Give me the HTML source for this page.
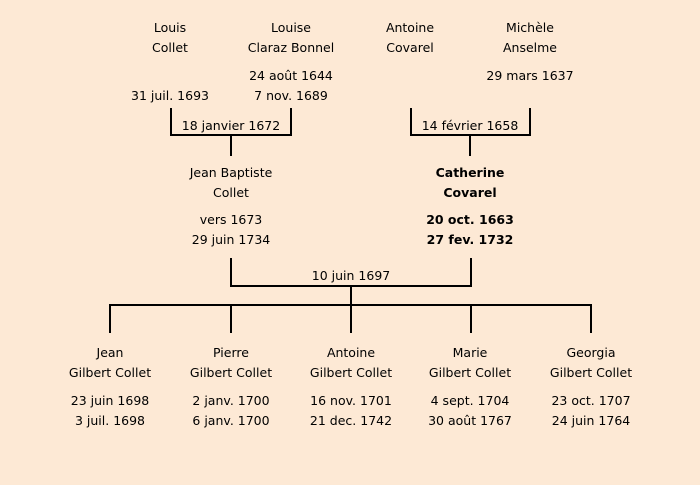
<!DOCTYPE html>
<html><head><meta charset="utf-8"><style>
html,body{margin:0;padding:0;background:#fde9d5;}
svg{display:block}
text{font-family:"DejaVu Sans","Liberation Sans",sans-serif;font-size:12.5px;fill:#000;text-anchor:middle}
.b{font-weight:bold}
</style></head><body>
<svg width="700" height="485" viewBox="0 0 700 485">
<rect width="700" height="485" fill="#fde9d5"/>
<g stroke="#000" stroke-width="2" fill="none">
<path d="M171 108V135H291V108M231 135V156"/>
<path d="M411 108V135H530V108M470 135V156"/>
<path d="M231 258V286H471V258M351 286V305"/>
<path d="M110 333V305H591V333M231 305V333M351 305V333M471 305V333"/>
</g>
<g>
<text x="170" y="32">Louis</text><text x="170" y="52">Collet</text>
<text x="291" y="32">Louise</text><text x="291" y="52">Claraz Bonnel</text>
<text x="291" y="80">24 août 1644</text><text x="291" y="100">7 nov. 1689</text>
<text x="170" y="100">31 juil. 1693</text>
<text x="410" y="32">Antoine</text><text x="410" y="52">Covarel</text>
<text x="530" y="32">Michèle</text><text x="530" y="52">Anselme</text>
<text x="530" y="80">29 mars 1637</text>
<text x="231" y="130">18 janvier 1672</text>
<text x="470" y="130">14 février 1658</text>
<text x="231" y="177">Jean Baptiste</text><text x="231" y="197">Collet</text>
<text x="231" y="224">vers 1673</text><text x="231" y="244">29 juin 1734</text>
<text class="b" x="470" y="177">Catherine</text><text class="b" x="470" y="197">Covarel</text>
<text class="b" x="470" y="224">20 oct. 1663</text><text class="b" x="470" y="244">27 fev. 1732</text>
<text x="351" y="280">10 juin 1697</text>
<text x="110" y="357">Jean</text><text x="110" y="377">Gilbert Collet</text>
<text x="110" y="405">23 juin 1698</text><text x="110" y="425">3 juil. 1698</text>
<text x="231" y="357">Pierre</text><text x="231" y="377">Gilbert Collet</text>
<text x="231" y="405">2 janv. 1700</text><text x="231" y="425">6 janv. 1700</text>
<text x="351" y="357">Antoine</text><text x="351" y="377">Gilbert Collet</text>
<text x="351" y="405">16 nov. 1701</text><text x="351" y="425">21 dec. 1742</text>
<text x="470" y="357">Marie</text><text x="470" y="377">Gilbert Collet</text>
<text x="470" y="405">4 sept. 1704</text><text x="470" y="425">30 août 1767</text>
<text x="591" y="357">Georgia</text><text x="591" y="377">Gilbert Collet</text>
<text x="591" y="405">23 oct. 1707</text><text x="591" y="425">24 juin 1764</text>
</g>
</svg>
</body></html>
